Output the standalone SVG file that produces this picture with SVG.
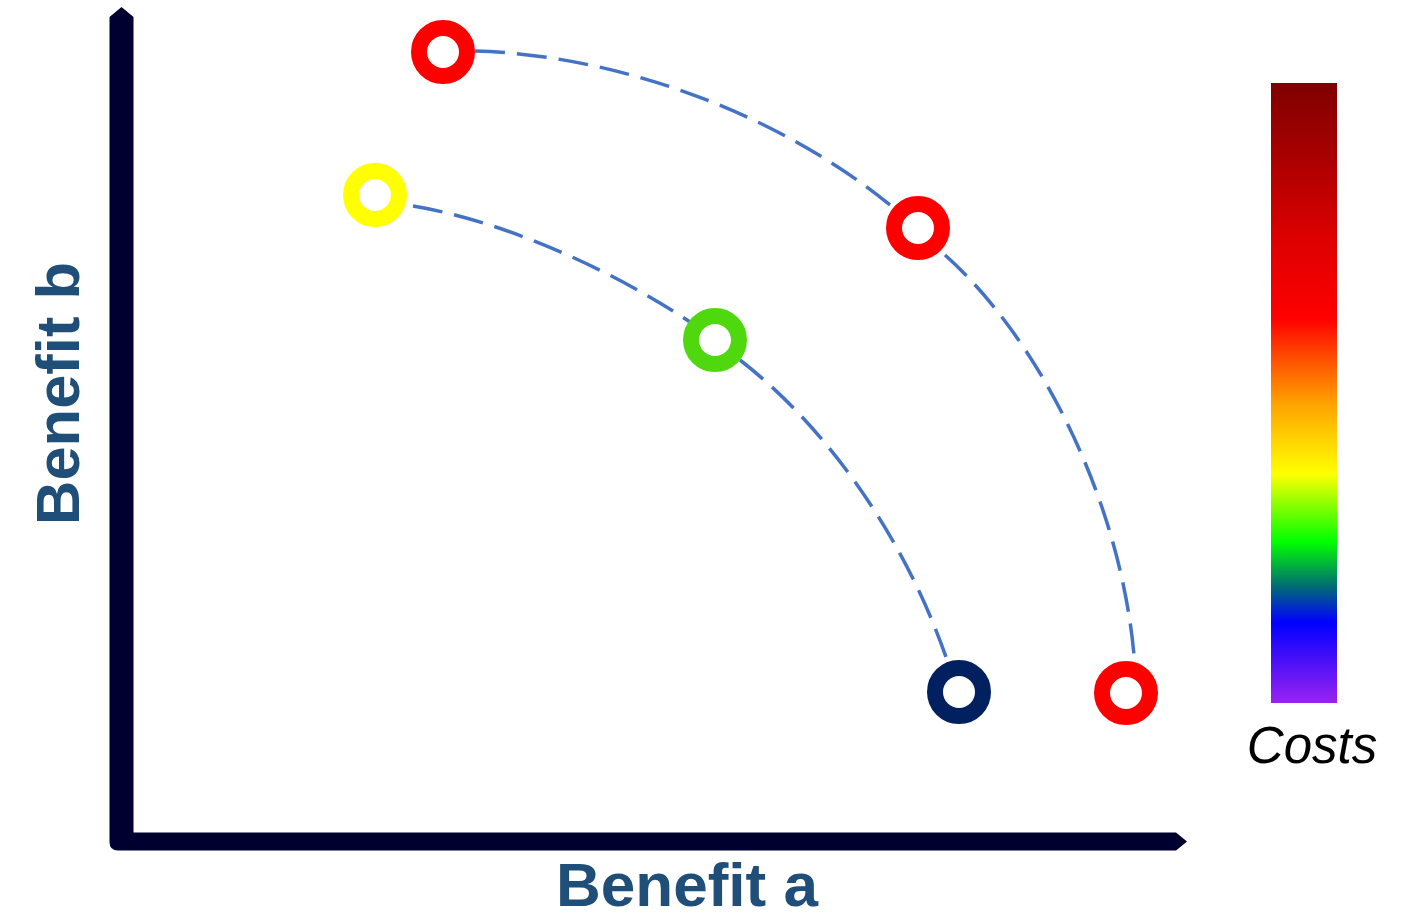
<svg xmlns="http://www.w3.org/2000/svg" width="1408" height="913" viewBox="0 0 1408 913">
<style>
.ring{fill:none;stroke-width:16}
.dash{fill:none;stroke:#4472C4;stroke-width:3.5;stroke-dasharray:30 12}
.lbl{font-family:"Liberation Sans",Arial,sans-serif;font-weight:bold;font-size:62px;fill:#1F4E79}
</style>
<defs>
<linearGradient id="costGrad" x1="0" y1="0" x2="0" y2="1">
<stop offset="0" stop-color="#800000"/>
<stop offset="0.12" stop-color="#aa0000"/>
<stop offset="0.25" stop-color="#dd0000"/>
<stop offset="0.38" stop-color="#ff0000"/>
<stop offset="0.45" stop-color="#ff5500"/>
<stop offset="0.52" stop-color="#ffa500"/>
<stop offset="0.63" stop-color="#ffff00"/>
<stop offset="0.74" stop-color="#00ff00"/>
<stop offset="0.81" stop-color="#007070"/>
<stop offset="0.87" stop-color="#0000ff"/>
<stop offset="1" stop-color="#9a22f0"/>
</linearGradient>
</defs>
<rect width="1408" height="913" fill="#ffffff"/>
<g id="axes">
<path d="M109.5,17 L121.5,7 L133.5,17 L133.5,832.5 L1176,832.5 L1187,841.5 L1176,850.5 L118,850.5 Q109.5,850.5 109.5,842 Z" fill="#000030"/>
</g>
<g id="connectors">
<path class="dash" d="M475,51 C620,55 780,115 890,205"/>
<path class="dash" d="M945,255 C1040,340 1120,500 1134,655"/>
<path class="dash" d="M413,206 C510,222 620,275 690,322"/>
<path class="dash" d="M740,360 C830,430 905,540 946,657"/>
</g>
<g id="node-red-top"><circle class="ring" cx="443" cy="52" r="24" stroke="#FF0000"/></g>
<g id="node-yellow"><circle class="ring" cx="375" cy="195" r="24" stroke="#FFFF00"/></g>
<g id="node-red-mid"><circle class="ring" cx="918" cy="228" r="24" stroke="#FF0000"/></g>
<g id="node-green"><circle class="ring" cx="715" cy="340" r="24" stroke="#4FD80E"/></g>
<g id="node-navy"><circle class="ring" cx="959" cy="692" r="24" stroke="#002060"/></g>
<g id="node-red-bottom"><circle class="ring" cx="1126" cy="693" r="24" stroke="#FF0000"/></g>
<g id="legend">
<rect x="1271" y="83" width="66" height="620" fill="url(#costGrad)"/>
<text x="1312" y="763" text-anchor="middle" font-family="Liberation Sans, Arial, sans-serif" font-style="italic" font-size="51" fill="#000000">Costs</text>
</g>
<g id="label-a"><text class="lbl" x="687" y="906" text-anchor="middle" textLength="262" lengthAdjust="spacingAndGlyphs">Benefit a</text></g>
<g id="label-b"><text class="lbl" transform="translate(79,393.5) rotate(-90)" x="0" y="0" text-anchor="middle" textLength="263" lengthAdjust="spacingAndGlyphs">Benefit b</text></g>
</svg>
